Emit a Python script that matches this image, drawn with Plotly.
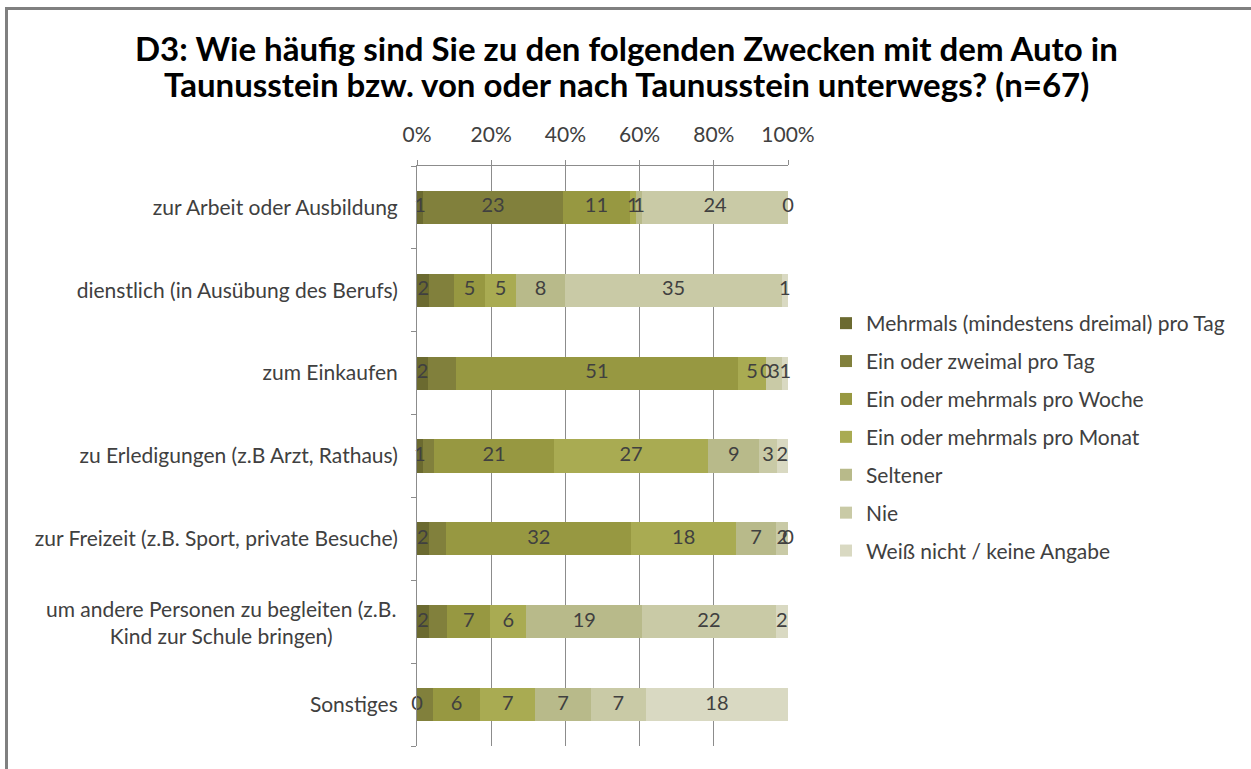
import numpy as np
import plotly.graph_objects as go

categories = [
    "zur Arbeit oder Ausbildung",
    "dienstlich (in Ausübung des Berufs)",
    "zum Einkaufen",
    "zu Erledigungen (z.B Arzt, Rathaus)",
    "zur Freizeit (z.B. Sport, private Besuche)",
    "um andere Personen zu begleiten (z.B.<br>Kind zur Schule bringen)",
    "Sonstiges",
]
series_names = [
    "Mehrmals (mindestens dreimal) pro Tag",
    "Ein oder zweimal pro Tag",
    "Ein oder mehrmals pro Woche",
    "Ein oder mehrmals pro Monat",
    "Seltener",
    "Nie",
    "Weiß nicht / keine Angabe",
]
mehrmals_tag = [1, 2, 2, 1, 2, 2, 0]
zweimal_tag = [23, 4, 5, 2, 3, 3, 2]
pro_woche = [11, 5, 51, 21, 32, 7, 6]
pro_monat = [1, 5, 5, 27, 18, 6, 7]
seltener = [1, 8, 0, 9, 7, 19, 7]
nie = [24, 35, 3, 3, 2, 22, 7]
weiss_nicht = [0, 1, 1, 2, 0, 2, 18]
# which labels are visible in the reference (only the second series hides some)
zweimal_label_shown = [True, False, False, False, False, False, False]

title_lines = [
    "D3: Wie häufig sind Sie zu den folgenden Zwecken mit dem Auto in",
    "Taunusstein bzw. von oder nach Taunusstein unterwegs? (n=67)",
]
series_values = [mehrmals_tag, zweimal_tag, pro_woche, pro_monat, seltener, nie, weiss_nicht]
colors = ["#6b6a30", "#81803c", "#979841", "#a9ab52", "#b8ba8a", "#c9caa6", "#d9d9c2"]
x_ticks = [0, 20, 40, 60, 80, 100]
x_ticktext = ["0%", "20%", "40%", "60%", "80%", "100%"]

W, H = 1251, 769
ML, MR, MT, MB = 417, 463, 166, 23
PW, PH = W - ML - MR, H - MT - MB

def px_x(px):  # screen pixel -> paper
    return (px - ML) / PW

def px_y(py):
    return (H - MB - py) / PH

FONT = "Lato"
TXT = "#404040"

fig = go.Figure()
for i, (name, vals, col) in enumerate(zip(series_names, series_values, colors)):
    fig.add_trace(go.Bar(
        y=categories, x=vals, orientation="h", name=name,
        marker=dict(color=col, line=dict(width=0)),
        textposition="none", legendgroup=str(i), hoverinfo="x+y+name",
    ))

# data labels: centred on each segment (percent of row total)
vals_arr = np.array(series_values, dtype=float)
totals = vals_arr.sum(axis=0)
starts = np.cumsum(vals_arr, axis=0) - vals_arr
centres = (starts + vals_arr / 2) / totals * 100
lab_x, lab_y, lab_t = [], [], []
for i in range(len(series_values)):
    for j in range(len(categories)):
        if i == 1 and not zweimal_label_shown[j]:
            continue
        lab_x.append(centres[i, j])
        lab_y.append(categories[j])
        lab_t.append(str(int(vals_arr[i, j])))
fig.add_trace(go.Scatter(
    x=lab_x, y=lab_y, text=lab_t, mode="text", textposition="middle center",
    textfont=dict(family=FONT, size=20, color=TXT), showlegend=False,
    hoverinfo="skip", cliponaxis=False,
))

ticktext = [c if "<br>" not in c else "" for c in categories]

fig.update_layout(
    width=W, height=H,
    margin=dict(l=ML, r=MR, t=MT, b=MB),
    barmode="stack", barnorm="percent", bargap=0.6,
    plot_bgcolor="white", paper_bgcolor="white",
    font=dict(family=FONT, color=TXT),
    xaxis=dict(
        side="top", range=[0, 100], tickvals=x_ticks, ticktext=x_ticktext,
        showgrid=True, gridcolor="#8c8c8c", gridwidth=1,
        showline=True, linecolor="#8c8c8c", linewidth=1,
        ticks="outside", ticklen=5, tickcolor="#8c8c8c",
        tickfont=dict(family=FONT, size=21, color=TXT),
        ticklabelstandoff=10, zeroline=False, fixedrange=True,
    ),
    yaxis=dict(
        autorange="reversed", tickvals=categories, ticktext=ticktext,
        showline=True, linecolor="#8c8c8c", linewidth=1,
        ticks="outside", ticklen=5, tickcolor="#8c8c8c", tickson="boundaries",
        tickfont=dict(family=FONT, size=21, color=TXT),
        ticklabelstandoff=14, fixedrange=True,
    ),
    legend=dict(
        x=px_x(826), y=px_y(303), xanchor="left", yanchor="top",
        traceorder="grouped", tracegroupgap=7.6,
        font=dict(family=FONT, size=21, color=TXT),
        bgcolor="rgba(0,0,0,0)",
    ),
    showlegend=True,
)

# two-line bold title
for line, ypx in zip(title_lines, [48, 84]):
    fig.add_annotation(
        text="<b>" + line + "</b>", xref="paper", yref="paper",
        x=px_x(626), y=px_y(ypx), xanchor="center", yanchor="middle",
        showarrow=False, font=dict(family=FONT, size=33, color="#000000"),
    )

# centered two-line category label
fig.add_annotation(
    text=categories[5], xref="paper", yref="y", x=px_x(398), y=categories[5],
    xanchor="right", yanchor="middle", align="center", showarrow=False,
    font=dict(family=FONT, size=21, color=TXT),
)

# outer frame (top and left edges visible in reference)
fig.add_shape(type="line", xref="paper", yref="paper",
              x0=px_x(5), x1=px_x(W + 5), y0=px_y(8.5), y1=px_y(8.5),
              line=dict(color="#808080", width=3))
fig.add_shape(type="line", xref="paper", yref="paper",
              x0=px_x(6.5), x1=px_x(6.5), y0=px_y(7), y1=px_y(H + 5),
              line=dict(color="#808080", width=3))

fig.write_html(
    "out.html",
    config={"displayModeBar": False},
    post_script="document.body.style.margin='0';document.body.style.overflow='hidden';",
)
